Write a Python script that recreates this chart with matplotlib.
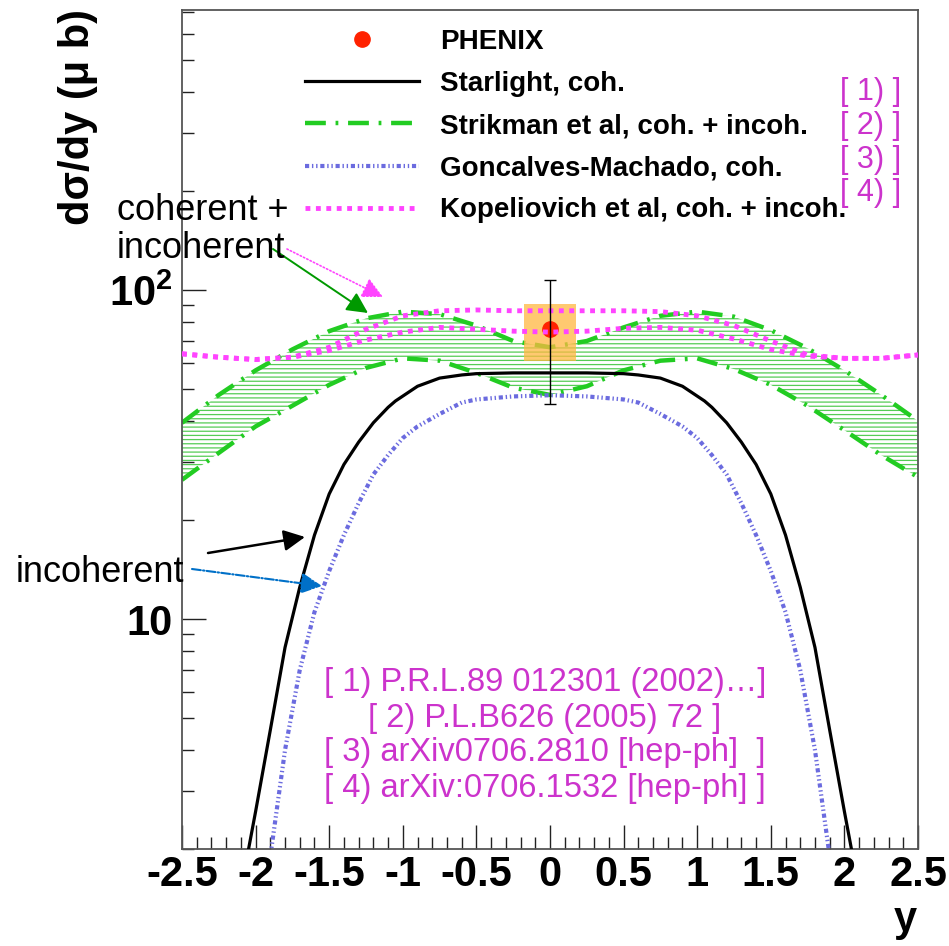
import numpy as np
import matplotlib
matplotlib.use("Agg")
import matplotlib.pyplot as plt
from matplotlib.ticker import FixedLocator, MultipleLocator, FuncFormatter, LogLocator, NullFormatter
from matplotlib.lines import Line2D

### donnees ###

# Starlight, coh. (trait noir)
x_star = [-2.1, -2.0, -1.9, -1.8, -1.7, -1.6, -1.5, -1.4, -1.3, -1.2, -1.1, -1.05, -0.9, -0.75, -0.6, -0.5, -0.25,
          0.0, 0.25, 0.5, 0.6, 0.75, 0.9, 1.05, 1.1, 1.2, 1.3, 1.4, 1.5, 1.6, 1.7, 1.8, 1.9, 2.0, 2.1]
y_star = [1.5, 2.6, 4.6, 8.2, 12.5, 18.0, 24.0, 29.5, 34.5, 39.5, 44.0, 46.0, 51.0, 54.0, 55.2, 55.7, 56.0,
          56.0, 56.0, 55.7, 55.2, 54.0, 51.0, 46.0, 44.0, 39.5, 34.5, 29.5, 24.0, 18.0, 12.5, 8.2, 4.6, 2.6, 1.5]

# Goncalves-Machado, coh. (bleu)
x_gm = [-1.95, -1.9, -1.8, -1.7, -1.6, -1.5, -1.4, -1.3, -1.2, -1.1, -1.0, -0.9, -0.75, -0.6, -0.5, -0.25,
        0.0, 0.25, 0.5, 0.6, 0.75, 0.9, 1.0, 1.1, 1.2, 1.3, 1.4, 1.5, 1.6, 1.7, 1.8, 1.9, 1.95]
y_gm = [1.4, 1.9, 4.0, 7.0, 10.5, 14.0, 18.0, 22.5, 27.5, 31.5, 35.5, 38.5, 42.0, 45.5, 46.5, 47.5,
        47.9, 47.5, 46.5, 45.5, 42.0, 38.5, 35.5, 31.5, 27.5, 22.5, 18.0, 14.0, 10.5, 7.0, 4.0, 1.9, 1.4]

# Strikman et al (bande verte)
x_str = [-2.5, -2.25, -2.0, -1.75, -1.5, -1.25, -1.0, -0.75, -0.5, -0.25, 0.0,
         0.25, 0.5, 0.75, 1.0, 1.25, 1.5, 1.75, 2.0, 2.25, 2.5]
y_str_hi = [39.5, 48.0, 57.0, 66.0, 75.0, 82.0, 86.0, 84.5, 78.0, 70.0, 67.0,
            70.0, 77.0, 83.5, 86.0, 83.0, 75.5, 66.5, 57.0, 48.0, 40.0]
y_str_lo = [26.5, 32.0, 38.5, 44.5, 51.5, 58.0, 62.0, 61.0, 56.0, 50.5, 48.0,
            51.0, 57.0, 61.0, 62.0, 57.5, 51.5, 44.5, 37.5, 31.5, 27.0]

# Kopeliovich et al (magenta, deux courbes)
x_kop = [-2.5, -2.25, -2.0, -1.75, -1.5, -1.25, -1.0, -0.75, -0.5, -0.25, 0.0,
         0.25, 0.5, 0.75, 1.0, 1.25, 1.5, 1.75, 2.0, 2.25, 2.5]
y_kop_hi = [64.0, 62.5, 61.5, 62.5, 67.0, 76.0, 83.5, 86.5, 87.0, 86.5, 86.5,
            86.5, 86.5, 86.0, 83.5, 78.0, 70.0, 63.5, 62.0, 62.0, 63.5]
y_kop_lo = [64.0, 62.5, 61.5, 62.5, 65.5, 70.5, 74.5, 77.0, 76.0, 75.0, 74.5,
            75.0, 76.5, 77.0, 75.5, 71.0, 66.0, 63.0, 62.0, 62.0, 63.5]

# PHENIX
x_phx = [0.0]
y_phx = [76.0]
err_stat = [31.0]
err_syst = [15.0]
dx_syst = 0.175

legend_labels = ["PHENIX", "Starlight, coh.", "Strikman et al, coh. + incoh.",
                 "Goncalves-Machado, coh.", "Kopeliovich et al, coh. + incoh."]
ref_tags = ["[ 1) ]", "[ 2) ]", "[ 3) ]", "[ 4) ]"]
ref_lines = ["[ 1) P.R.L.89 012301 (2002)\u2026]",
             "[ 2) P.L.B626 (2005) 72 ]",
             "[ 3) arXiv0706.2810 [hep-ph]  ]",
             "[ 4) arXiv:0706.1532 [hep-ph] ]"]

### style ###

plt.rcParams['font.family'] = ['Liberation Sans', 'DejaVu Sans']
plt.rcParams['mathtext.fontset'] = 'custom'
plt.rcParams['mathtext.rm'] = 'Liberation Sans'
plt.rcParams['mathtext.bf'] = 'Liberation Sans:bold'
plt.rcParams['axes.unicode_minus'] = False
plt.rcParams['lines.scale_dashes'] = False
plt.rcParams['hatch.linewidth'] = 0.9

W, H = 949, 946


def fp(px, py):  # pixel de l'image -> fraction de figure
    return (px / W, 1 - py / H)


c_green = '#22CC22'
c_blue = '#6B6BDF'
c_mag = '#FF44FF'
c_ref = '#CC33CC'

fig = plt.figure(figsize=(9.49, 9.46), dpi=100)
ax = fig.add_axes([182 / W, 1 - 849 / H, (918 - 182) / W, (849 - 10) / H])

ax.set_yscale('log')
ax.set_xlim(-2.5, 2.5)
ax.set_ylim(2.0, 710)

# bande Strikman
ax.fill_between(x_str, y_str_lo, y_str_hi, facecolor='none', edgecolor='#55CC55',
                hatch='----', linewidth=0, zorder=1)
ls_green = (0, (15, 7, 2, 7))
ax.plot(x_str, y_str_hi, color=c_green, lw=3.2, ls=ls_green, zorder=2)
l_green, = ax.plot(x_str, y_str_lo, color=c_green, lw=3.2, ls=ls_green, zorder=2)

# PHENIX : boite systematique
ax.bar(x_phx, [2 * e for e in err_syst], bottom=[y - e for y, e in zip(y_phx, err_syst)],
       width=2 * dx_syst, color='#FFB840', alpha=0.75, zorder=3, linewidth=0)

l_star, = ax.plot(x_star, y_star, color='black', lw=2.3, zorder=4)
l_gm, = ax.plot(x_gm, y_gm, color=c_blue, lw=3.0, ls=(0, (3, 2, 1, 2, 1, 2)), zorder=4)
ls_mag = (0, (3.5, 4))
l_kop, = ax.plot(x_kop, y_kop_hi, color=c_mag, lw=3.5, ls=ls_mag, zorder=5)
ax.plot(x_kop, y_kop_lo, color=c_mag, lw=3.5, ls=ls_mag, zorder=5)

ax.errorbar(x_phx, y_phx, yerr=err_stat, fmt='none', ecolor='black', elinewidth=1,
            capsize=4, capthick=1, zorder=6)
ax.plot(x_phx, y_phx, 'o', color='#FF2200', ms=11, zorder=4.5)

# axes facon ROOT
for s in ['left', 'bottom', 'right', 'top']:
    ax.spines[s].set_color('#555555')
    ax.spines[s].set_linewidth(1.3)
ax.xaxis.set_major_locator(MultipleLocator(0.5))
ax.xaxis.set_minor_locator(MultipleLocator(0.1))
ax.xaxis.set_major_formatter(FuncFormatter(lambda v, p: '%g' % round(v, 2)))
ax.yaxis.set_major_locator(FixedLocator([10, 100]))
ax.yaxis.set_minor_locator(LogLocator(base=10, subs=np.arange(2, 10)))
ax.yaxis.set_minor_formatter(NullFormatter())
ax.yaxis.set_major_formatter(FuncFormatter(lambda v, p: '10' if v < 50 else r'$\mathbf{10^{2}}$'))
ax.tick_params(which='both', direction='in', top=False, right=False, width=1, color='#222222')
ax.tick_params(which='major', length=17, labelsize=30, pad=4)
ax.tick_params(which='minor', length=8.5)
ax.tick_params(axis='y', which='major', pad=7)
for lab in ax.get_xticklabels() + ax.get_yticklabels():
    lab.set_fontweight('bold')

fig.text(*fp(78, 117), 'd\u03c3/dy (\u03bc b)', rotation=90, ha='center', va='center',
         fontsize=30, fontweight='bold')
fig.text(*fp(905, 931), 'y', ha='center', va='baseline', fontsize=30, fontweight='bold')

# legende
h_phx = Line2D([], [], ls='none', marker='o', color='#FF2200', ms=11)
ax.legend([h_phx, l_star, l_green, l_gm, l_kop], legend_labels,
          loc='upper left', bbox_to_anchor=fp(305, 29), bbox_transform=fig.transFigure,
          frameon=False, borderpad=0, borderaxespad=0, handlelength=4.1, handletextpad=0.75,
          labelspacing=0.58, prop=dict(size=20, weight='bold'))

# references
ref_y = [92, 126, 160, 193]
for t, yy in zip(ref_tags, ref_y):
    fig.text(*fp(840, yy), t, color=c_ref, fontsize=22, ha='left', va='center')
bot_y = [683, 718, 752, 788]
for t, yy in zip(ref_lines, bot_y):
    fig.text(*fp(545, yy), t, color=c_ref, fontsize=23.5, ha='center', va='center')

# annotations
fig.text(*fp(117, 220), 'coherent +', fontsize=26, va='baseline')
fig.text(*fp(117, 258), 'incoherent', fontsize=26, va='baseline')
fig.text(*fp(16, 582), 'incoherent', fontsize=26, va='baseline')

arrows = [((273, 249), (368, 313), '#009900', '-', 1.4),
          ((287, 249), (383, 297), c_mag, ':', 1.2),
          ((208, 553), (305, 537), 'black', '-', 1.8),
          ((192, 569), (322, 586), '#0070C8', '-.', 1.5)]
for a, b, col, ls, lw in arrows:
    ax.annotate('', xy=fp(*b), xycoords='figure fraction', xytext=fp(*a),
                textcoords='figure fraction',
                arrowprops=dict(arrowstyle='-|>', color=col, ls=ls, lw=lw,
                                mutation_scale=32, shrinkA=0, shrinkB=0), zorder=7)

fig.savefig('out.png', dpi=100)
